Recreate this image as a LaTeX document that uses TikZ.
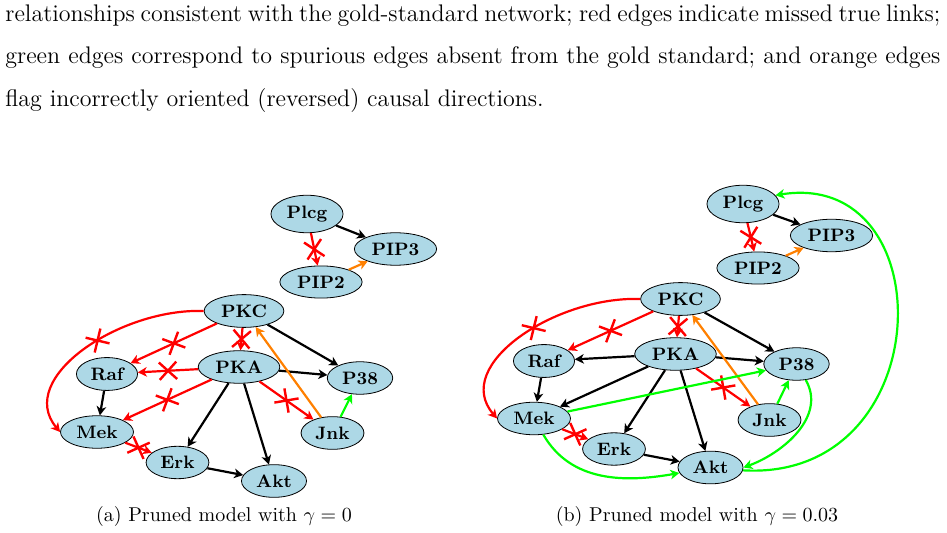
\documentclass[tikz,border=0pt]{standalone}
\usepackage{tikz}
\usetikzlibrary{arrows.meta,shapes.geometric,shapes.misc}
\definecolor{protblue}{HTML}{ADD8E6}
\definecolor{revorange}{rgb}{1,0.5,0}
\definecolor{spurgreen}{rgb}{0,1,0}

\tikzset{
  prot/.style={ellipse, draw, fill=protblue, font=\small\bfseries, inner sep=2.6pt},
  link/.style={-{Stealth[length=4.5pt, width=4.8pt, inset=1.3pt]}, line width=1.1pt},
  kept/.style={link, black},
  missed/.style={link, red},
  spur/.style={link, spurgreen},
  flipped/.style={link, revorange},
  xmark/.style={cross out, draw=red, line width=1.2pt, minimum size=7.5pt,
    inner sep=0pt, sloped, midway},
  subcap/.style={font=\normalsize},
}

\begin{document}
\begin{tikzpicture}[x=0.5pt, y=-0.5pt]
  \useasboundingbox (0,0) rectangle (947,533);

  % ── Running text ──
  \node[anchor=north west, inner sep=0pt, text width=467.5pt, align=justify,
    font=\fontsize{12}{21.25}\selectfont] (para) at (5,4.3)
    {relationships consistent with the gold-standard network; red edges indicate missed true links;\linebreak
     green edges correspond to spurious edges absent from the gold standard; and orange edges\linebreak
     flag incorrectly oriented (reversed) causal directions.};

  % ── (a) gamma = 0 ──
  \node[prot] (aPlcg) at (307,214) {Plcg};
  \node[prot] (aPIP3) at (395.5,249) {PIP3};
  \node[prot] (aPIP2) at (321,282) {PIP2};
  \node[prot] (aPKC) at (244,311) {PKC};
  \node[prot] (aPKA) at (239,367) {PKA};
  \node[prot] (aRaf) at (107,374) {Raf};
  \node[prot] (aP38) at (360,378) {P38};
  \node[prot] (aMek) at (97,432) {Mek};
  \node[prot] (aJnk) at (332.5,433) {Jnk};
  \node[prot] (aErk) at (177.5,462.5) {Erk};
  \node[prot] (aAkt) at (274,481) {Akt};

  \draw[kept] (aPlcg) -- (aPIP3);
  \draw[missed] (aPlcg) -- node[xmark] {} (aPIP2);
  \draw[flipped] (aPIP2) -- (aPIP3);
  \draw[kept] (aPKC) -- (aP38);
  \draw[missed] (aPKC) -- node[xmark] {} (aRaf);
  \draw[missed] (aPKC) -- node[xmark] {} (aPKA);
  \draw[missed] (aPKC.west) .. controls (120,308) and (15,378) ..
    node[xmark, pos=0.43] {} (aMek.west);
  \draw[missed] (aPKA) -- node[xmark] {} (aRaf);
  \draw[missed] (aPKA) -- node[xmark] {} (aMek);
  \draw[kept] (aPKA) -- (aP38);
  \draw[kept] (aPKA) -- (aErk);
  \draw[kept] (aPKA) -- (aAkt);
  \draw[missed] (aPKA) -- node[xmark] {} (aJnk);
  \draw[flipped] (aJnk) -- (aPKC);
  \draw[spur] (aJnk) -- (aP38);
  \draw[kept] (aRaf) -- (aMek);
  \draw[missed] (aMek) -- node[xmark] {} (aErk);
  \draw[kept] (aErk) -- (aAkt);

  \node[subcap] (capA) at (224,517) {(a) Pruned model with $\gamma = 0$};

  % ── (b) gamma = 0.03 ──
  \node[prot] (bPlcg) at (743,204) {Plcg};
  \node[prot] (bPIP3) at (831.5,235.5) {PIP3};
  \node[prot] (bPIP2) at (758,268) {PIP2};
  \node[prot] (bPKC) at (680.5,299) {PKC};
  \node[prot] (bPKA) at (675.5,354) {PKA};
  \node[prot] (bRaf) at (544,361) {Raf};
  \node[prot] (bP38) at (796.5,364) {P38};
  \node[prot] (bMek) at (534,418.5) {Mek};
  \node[prot] (bJnk) at (769.5,420) {Jnk};
  \node[prot] (bErk) at (614,449) {Erk};
  \node[prot] (bAkt) at (710.5,467.5) {Akt};

  \draw[kept] (bPlcg) -- (bPIP3);
  \draw[missed] (bPlcg) -- node[xmark] {} (bPIP2);
  \draw[flipped] (bPIP2) -- (bPIP3);
  \draw[spur] (bAkt.-5) .. controls (940,482) and (945,168) .. (bPlcg.15);
  \draw[kept] (bPKC) -- (bP38);
  \draw[missed] (bPKC) -- node[xmark] {} (bRaf);
  \draw[missed] (bPKC) -- node[xmark] {} (bPKA);
  \draw[missed] (bPKC.west) .. controls (556,296) and (451,365) ..
    node[xmark, pos=0.43] {} (bMek.west);
  \draw[kept] (bPKA) -- (bRaf);
  \draw[kept] (bPKA) -- (bMek);
  \draw[kept] (bPKA) -- (bP38);
  \draw[kept] (bPKA) -- (bErk);
  \draw[kept] (bPKA) -- (bAkt);
  \draw[missed] (bPKA) -- node[xmark] {} (bJnk);
  \draw[flipped] (bJnk) -- (bPKC);
  \draw[spur] (bJnk) -- (bP38);
  \draw[spur] (bP38) to[out=-60, in=20] (bAkt.east);
  \draw[kept] (bRaf) -- (bMek);
  \draw[missed] (bMek) -- node[xmark] {} (bErk);
  \draw[spur] (bMek) -- (bP38);
  \draw[spur] (bMek) to[out=-60, in=190] (bAkt);
  \draw[kept] (bErk) -- (bAkt);

  \node[subcap] (capB) at (697,517) {(b) Pruned model with $\gamma = 0.03$};
\end{tikzpicture}
\end{document}
